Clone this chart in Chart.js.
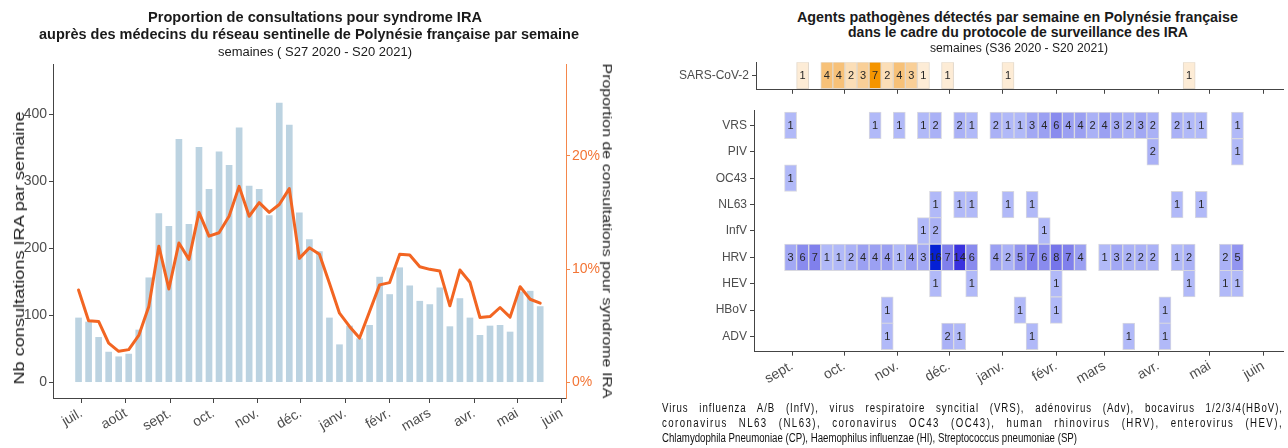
<!DOCTYPE html>
<html><head><meta charset="utf-8">
<script src="https://cdn.jsdelivr.net/npm/chart.js@4/dist/chart.umd.min.js"></script>
<style>
html,body{margin:0;padding:0;background:#fff;}
#wrap{position:relative;width:1288px;height:448px;overflow:hidden;font-family:"Liberation Sans",Arial,sans-serif;color:#1a1a1a;}
canvas{position:absolute;}
.t{position:absolute;white-space:nowrap;line-height:16px;transform-origin:0 0;}
.b{font-weight:bold;font-size:15px;}
.s{font-size:12px;}
.f{position:absolute;font-size:12px;line-height:15px;white-space:nowrap;transform-origin:0 0;color:#111;}
.ax{position:absolute;white-space:nowrap;line-height:18px;transform-origin:50% 50%;color:#1a1a1a;}
</style></head>
<body><div id="wrap">
<canvas id="c1" width="640" height="448" style="left:0;top:0"></canvas>
<canvas id="c2" width="632" height="48" style="left:656px;top:52px"></canvas>
<canvas id="c3" width="632" height="348" style="left:656px;top:100px"></canvas>
<div class="t b" data-x0="148" data-x1="482" data-cy="17">Proportion de consultations pour syndrome IRA</div>
<div class="t b" data-x0="39" data-x1="579" data-cy="34">auprès des médecins du réseau sentinelle de Polynésie française par semaine</div>
<div class="t s" data-x0="218" data-x1="412" data-cy="52">semaines ( S27 2020 - S20 2021)</div>
<div class="t b" data-x0="797" data-x1="1238" data-cy="17">Agents pathogènes détectés par semaine en Polynésie française</div>
<div class="t b" data-x0="848" data-x1="1188" data-cy="32">dans le cadre du protocole de surveillance des IRA</div>
<div class="t s" data-x0="930" data-x1="1108" data-cy="48">semaines (S36 2020 - S20 2021)</div>
<div class="ax" style="font-size:15px" data-cx="18.5" data-cy="248" data-len="273" data-rot="-90">Nb consultations IRA par semaine</div>
<div class="ax" style="font-size:13.5px" data-cx="606.5" data-cy="230.5" data-len="335" data-rot="90">Proportion de consultations pour syndrome IRA</div>
<div class="f" id="f1">Virus influenza A/B (InfV), virus respiratoire syncitial (VRS), adénovirus (Adv), bocavirus 1/2/3/4(HBoV),</div>
<div class="f" id="f2">coronavirus NL63 (NL63), coronavirus OC43 (OC43), human rhinovirus (HRV), enterovirus (HEV),</div>
<div class="f" id="f3">Chlamydophila Pneumoniae (CP), Haemophilus influenzae (HI), Streptococcus pneumoniae (SP)</div>
</div>
<script>
// ---------- DATA ----------
const weeksLeft = ['2020-S27','2020-S28','2020-S29','2020-S30','2020-S31','2020-S32','2020-S33','2020-S34','2020-S35','2020-S36',
 '2020-S37','2020-S38','2020-S39','2020-S40','2020-S41','2020-S42','2020-S43','2020-S44','2020-S45','2020-S46',
 '2020-S47','2020-S48','2020-S49','2020-S50','2020-S51','2020-S52','2020-S53',
 '2021-S01','2021-S02','2021-S03','2021-S04','2021-S05','2021-S06','2021-S07','2021-S08','2021-S09','2021-S10',
 '2021-S11','2021-S12','2021-S13','2021-S14','2021-S15','2021-S16','2021-S17','2021-S18','2021-S19','2021-S20'];
const consultIRA = [96,90,67,45,38,42,78,156,252,233,363,236,351,288,344,324,380,293,288,249,417,384,253,213,195,96,
 56,84,65,85,157,131,171,144,121,116,141,83,125,96,70,84,85,75,135,136,113];
const propIRA = [8.15,5.43,5.37,3.46,2.73,2.88,4.13,6.68,12.02,8.24,12.3,10.85,15.0,12.9,13.2,14.66,17.3,14.66,15.86,15.0,
 15.7,17.1,10.94,11.87,11.3,8.74,6.1,4.93,3.9,6.24,8.6,8.8,11.3,11.23,10.2,9.97,9.82,6.75,9.91,8.83,5.72,5.8,6.6,5.75,8.44,7.33,6.98];
const countTicks = [0,100,200,300,400];
const pctTicks = [0,10,20];
const monthLabels = ['juil.','août','sept.','oct.','nov.','déc.','janv.','févr.','mars','avr.','mai','juin'];
const monthStarts = ['2020-07-01','2020-08-01','2020-09-01','2020-10-01','2020-11-01','2020-12-01','2021-01-01','2021-02-01','2021-03-01','2021-04-01','2021-05-01','2021-06-01'];

const weeksRight = ['2020-S36','2020-S37','2020-S38','2020-S39','2020-S40','2020-S41','2020-S42','2020-S43','2020-S44','2020-S45',
 '2020-S46','2020-S47','2020-S48','2020-S49','2020-S50','2020-S51','2020-S52','2020-S53',
 '2021-S01','2021-S02','2021-S03','2021-S04','2021-S05','2021-S06','2021-S07','2021-S08','2021-S09','2021-S10',
 '2021-S11','2021-S12','2021-S13','2021-S14','2021-S15','2021-S16','2021-S17','2021-S18','2021-S19','2021-S20'];
const sarsCov2 = [0,1,0,4,4,2,3,7,2,4, 3,1,0,1,0,0,0,0,1,0, 0,0,0,0,0,0,0,0,0,0, 0,0,0,1,0,0,0,0];
const pathogens = ['VRS','PIV','OC43','NL63','InfV','HRV','HEV','HBoV','ADV'];
const vrs  = [1,0,0,0,0,0,0,1,0,1, 0,1,2,0,2,1,0,2,1,1, 3,4,6,4,4,2,4,3,2,3, 2,0,2,1,1,0,0,1];
const piv  = [0,0,0,0,0,0,0,0,0,0, 0,0,0,0,0,0,0,0,0,0, 0,0,0,0,0,0,0,0,0,0, 2,0,0,0,0,0,0,1];
const oc43 = [1,0,0,0,0,0,0,0,0,0, 0,0,0,0,0,0,0,0,0,0, 0,0,0,0,0,0,0,0,0,0, 0,0,0,0,0,0,0,0];
const nl63 = [0,0,0,0,0,0,0,0,0,0, 0,0,1,0,1,1,0,0,1,0, 1,0,0,0,0,0,0,0,0,0, 0,0,1,0,1,0,0,0];
const infv = [0,0,0,0,0,0,0,0,0,0, 0,1,2,0,0,0,0,0,0,0, 0,1,0,0,0,0,0,0,0,0, 0,0,0,0,0,0,0,0];
const hrv  = [3,6,7,1,1,2,4,4,4,1, 4,3,16,7,14,6,0,4,2,5, 7,6,8,7,4,0,1,3,2,2, 2,0,1,2,0,0,2,5];
const hev  = [0,0,0,0,0,0,0,0,0,0, 0,0,1,0,0,1,0,0,0,0, 0,0,1,0,0,0,0,0,0,0, 0,0,0,1,0,0,1,1];
const hbov = [0,0,0,0,0,0,0,0,1,0, 0,0,0,0,0,0,0,0,0,1, 0,0,1,0,0,0,0,0,0,0, 0,1,0,0,0,0,0,0];
const adv  = [0,0,0,0,0,0,0,0,1,0, 0,0,0,2,1,0,0,0,0,0, 1,0,0,0,0,0,0,0,1,0, 0,1,0,0,0,0,0,0];
const pathogenSeries = [vrs,piv,oc43,nl63,infv,hrv,hev,hbov,adv];

// ---------- HELPERS ----------
const ORIGIN = Date.UTC(2020,6,1);
const DAY = 86400000;
function weekMonday(lbl){ // ISO week -> days since 1 July 2020
  const y = +lbl.slice(0,4), w = +lbl.slice(6);
  const jan4 = Date.UTC(y,0,4);
  const dow = (new Date(jan4).getUTCDay()+6)%7;
  return (jan4 - dow*DAY + (w-1)*7*DAY - ORIGIN)/DAY;
}
function dayOf(s){ const [y,m,d]=s.split('-').map(Number); return (Date.UTC(y,m-1,d)-ORIGIN)/DAY; }
const monthDays = monthStarts.map(dayOf);
const daysL = weeksLeft.map(weekMonday);
const daysR = weeksRight.map(weekMonday);

function rgb(c){ return 'rgb('+c.map(Math.round).join(',')+')'; }
function lerpStops(stops, v){
  if (v <= stops[0][0]) return rgb(stops[0][1]);
  for (let i=1;i<stops.length;i++){
    if (v <= stops[i][0]){
      const [a,ca]=stops[i-1], [b,cb]=stops[i], t=(v-a)/(b-a);
      return rgb(ca.map((c,j)=>c+(cb[j]-c)*t));
    }
  }
  return rgb(stops[stops.length-1][1]);
}
const blueStops = [[1,[177,185,248]],[4,[155,160,242]],[7,[128,128,236]],[14,[58,50,222]],[16,[5,32,212]]];
const orangeStops = [[1,[253,236,214]],[4,[247,193,120]],[7,[245,149,0]]];

Chart.defaults.font.family = '"Liberation Sans", Arial, sans-serif';
const AX = '#444', TXT = '#4d4d4d', ORANGE = '#f26522';

const cellLabels = {id:'cellLabels', afterDatasetsDraw(chart){
  const ctx = chart.ctx; ctx.save();
  ctx.font = '11px "Liberation Sans", Arial'; ctx.fillStyle = '#262626';
  ctx.textAlign = 'center'; ctx.textBaseline = 'middle';
  const ds = chart.data.datasets[0];
  chart.getDatasetMeta(0).data.forEach((el,i)=>{
    const p = el.getProps(['x','y','base'], true);
    ctx.fillText(String(ds.data[i].v), (p.x+p.base)/2, p.y+0.5);
  });
  ctx.restore();
}};

// ---------- LEFT CHART ----------
new Chart(document.getElementById('c1'), {
  type:'bar',
  data:{datasets:[
    {type:'line', data:daysL.map((d,i)=>({x:d,y:propIRA[i]})), yAxisID:'y2', borderColor:ORANGE, borderWidth:3,
     pointRadius:0, tension:0, order:0, borderJoinStyle:'round', borderCapStyle:'round'},
    {type:'bar', data:daysL.map((d,i)=>({x:d,y:consultIRA[i]})), yAxisID:'y', backgroundColor:'#bcd3e1',
     barThickness:6, order:1}
  ]},
  options:{
    responsive:false, animation:false,
    layout:{padding:{left:0,right:24,top:64,bottom:0}},
    plugins:{legend:{display:false}, tooltip:{enabled:false}},
    scales:{
      x:{type:'linear', offset:false, min:-19.82, max:338,
        afterBuildTicks:s=>{s.ticks = monthDays.map(v=>({value:v}));},
        afterFit:s=>{s.height=50;},
        ticks:{autoSkip:false, minRotation:30, maxRotation:30, font:{size:14}, color:TXT, padding:2,
          callback:(v,i)=>monthLabels[i]},
        grid:{drawOnChartArea:false, offset:false, color:AX, tickLength:5}, border:{color:AX}},
      y:{position:'left', min:-23.6, max:475.4,
        afterBuildTicks:s=>{s.ticks = countTicks.map(v=>({value:v}));},
        afterFit:s=>{s.width=53;},
        ticks:{font:{size:14}, color:TXT, padding:2},
        grid:{drawOnChartArea:false, color:AX, tickLength:4}, border:{color:AX}},
      y2:{position:'right', min:-1.394, max:28.11,
        afterBuildTicks:s=>{s.ticks = pctTicks.map(v=>({value:v}));},
        afterFit:s=>{s.width=50;},
        ticks:{font:{size:14}, color:'#f37535', padding:2, callback:v=>v+'%'},
        grid:{drawOnChartArea:false, color:'#f4874b', tickLength:4}, border:{color:'#f4874b'}}
    }
  }
});

// ---------- SARS-CoV-2 PANEL ----------
const sarsCells = [];
sarsCov2.forEach((v,k)=>{ if(v>0) sarsCells.push({x:[daysR[k]-3.5, daysR[k]+3.5], y:1, v}); });
new Chart(document.getElementById('c2'), {
  type:'bar',
  data:{datasets:[{data:sarsCells, backgroundColor:c=>c.raw?lerpStops(orangeStops,c.raw.v):'#fff',
    borderColor:'#e2d8cb', borderWidth:1, borderSkipped:false, barThickness:27}]},
  options:{indexAxis:'y', responsive:false, animation:false,
    layout:{padding:{left:0,right:5,top:8,bottom:0}},
    plugins:{legend:{display:false}, tooltip:{enabled:false}},
    scales:{
      x:{type:'linear', offset:false, min:40.96, max:346.4, beginAtZero:false,
        afterBuildTicks:s=>{s.ticks = monthDays.slice(2).map(v=>({value:v}));},
        afterFit:s=>{s.height=7.3;},
        ticks:{autoSkip:false, maxRotation:0, callback:()=>''},
        grid:{drawOnChartArea:false, offset:false, color:AX, tickLength:4}, border:{color:AX}},
      y:{type:'linear', offset:false, min:0.363, max:1.574,
        afterBuildTicks:s=>{s.ticks=[{value:1}];},
        afterFit:s=>{s.width=100;},
        ticks:{font:{size:12}, color:TXT, padding:3, callback:()=> 'SARS-CoV-2'},
        grid:{drawOnChartArea:false, offset:false, color:AX, tickLength:4}, border:{color:AX}}
    }},
  plugins:[cellLabels]
});

// ---------- HEATMAP PANEL ----------
const cells = [];
pathogenSeries.forEach((arr,r)=>arr.forEach((v,k)=>{ if(v>0) cells.push({x:[daysR[k]-3.5, daysR[k]+3.5], y:r+1, v}); }));
new Chart(document.getElementById('c3'), {
  type:'bar',
  data:{datasets:[{data:cells, backgroundColor:c=>c.raw?lerpStops(blueStops,c.raw.v):'#fff',
    borderColor:'#d8d8e0', borderWidth:1, borderSkipped:false, barThickness:26.6}]},
  options:{indexAxis:'y', responsive:false, animation:false,
    layout:{padding:{left:0,right:5,top:8.3,bottom:0}},
    plugins:{legend:{display:false}, tooltip:{enabled:false}},
    scales:{
      x:{type:'linear', offset:false, min:39.8, max:346.4, beginAtZero:false,
        afterBuildTicks:s=>{s.ticks = monthDays.slice(2).map(v=>({value:v}));},
        afterFit:s=>{s.height=96.3;},
        ticks:{autoSkip:false, minRotation:30, maxRotation:30, font:{size:14}, color:TXT, padding:2,
          callback:(v,i)=>monthLabels[i+2]},
        grid:{drawOnChartArea:false, offset:false, color:AX, tickLength:4}, border:{color:AX}},
      y:{type:'linear', offset:false, reverse:true, min:0.42, max:9.58,
        afterBuildTicks:s=>{s.ticks = pathogens.map((p,i)=>({value:i+1}));},
        afterFit:s=>{s.width=98;},
        ticks:{font:{size:12}, color:TXT, padding:3, callback:(v,i)=>pathogens[i]},
        grid:{drawOnChartArea:false, offset:false, color:AX, tickLength:4}, border:{color:AX}}
    }},
  plugins:[cellLabels]
});

// ---------- TEXT PLACEMENT ----------
document.querySelectorAll('.t').forEach(el=>{
  const x0=+el.dataset.x0, x1=+el.dataset.x1, cy=+el.dataset.cy;
  const w=el.getBoundingClientRect().width;
  el.style.left=x0+'px'; el.style.top=(cy-8)+'px';
  el.style.transform='scaleX('+((x1-x0)/w)+')';
});
document.querySelectorAll('.ax').forEach(el=>{
  const r=el.getBoundingClientRect();
  el.style.left=(+el.dataset.cx - r.width/2)+'px';
  el.style.top=(+el.dataset.cy - r.height/2)+'px';
  el.style.transform='rotate('+el.dataset.rot+'deg) scaleX('+(+el.dataset.len / r.width)+')';
});
(function(){
  const f1=document.getElementById('f1'), f2=document.getElementById('f2'), f3=document.getElementById('f3');
  const s = 415 / f3.getBoundingClientRect().width;
  [[f1,408],[f2,423],[f3,438]].forEach(([el,cy])=>{ el.style.left='662px'; el.style.top=(cy-7.5)+'px'; });
  [f1,f2].forEach(el=>{
    const w = el.getBoundingClientRect().width;
    const n = (el.textContent.match(/ /g)||[]).length;
    const len = el.textContent.length;
    const T = 621/s;
    const ws = 7/s;
    const ls = Math.max(0,(T - w - n*ws)/len);
    el.style.wordSpacing = ws+'px';
    el.style.letterSpacing = ls+'px';
  });
  [f1,f2,f3].forEach(el=>{ el.style.transform='scaleX('+s+')'; });
})();
</script>
</body></html>
